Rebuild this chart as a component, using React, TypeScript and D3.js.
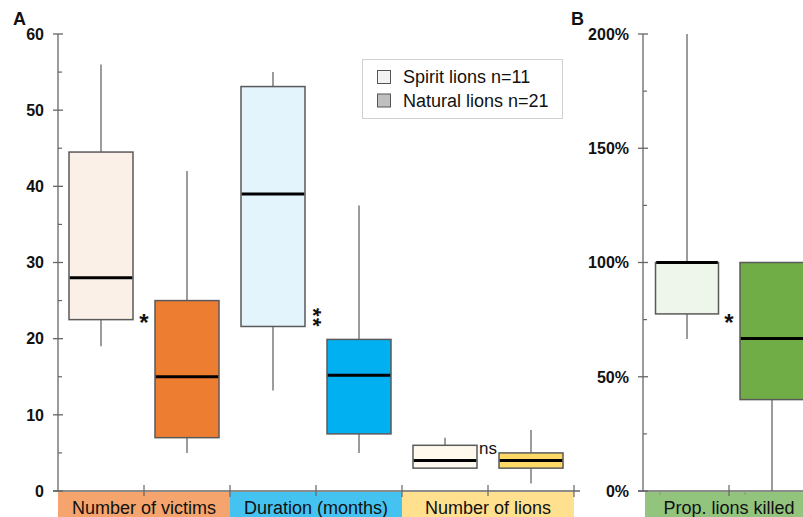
import React from "react";
import * as d3 from "d3";

const categoriesA = ["Number of victims", "Duration (months)", "Number of lions"];
const bandColorsA = ["#F4A46C", "#45C3F0", "#FFE08F"];
const spiritColorsA = ["#FBF0E8", "#E3F4FC", "#FEF9EC"];
const naturalColorsA = ["#ED7D31", "#00B0F0", "#FFD966"];
// [min, q1, median, q3, max]
const spiritStatsA = [
  [19, 22.5, 28, 44.5, 56],
  [13.2, 21.6, 39, 53.1, 55],
  [3, 3, 4, 6, 7],
];
const naturalStatsA = [
  [5, 7, 15, 25, 42],
  [5, 7.5, 15.2, 19.9, 37.5],
  [1, 3, 4, 5, 8],
];
const sigA = ["*", "**", "ns"];
const yTicksA = [0, 10, 20, 30, 40, 50, 60];
const yMinorA = [5, 15, 25, 35, 45, 55];

const categoriesB = ["Prop. lions killed"];
const spiritStatsB = [[0.665, 0.775, 1.0, 1.0, 2.0]];
const naturalStatsB = [[0, 0.4, 0.667, 1.0, 1.0]];
const sigB = ["*"];
const yTicksB = [0, 0.5, 1, 1.5, 2];
const yMinorB = [0.25, 0.75, 1.25, 1.75];

const legendLabels = ["Spirit lions n=11", "Natural lions n=21"];
const legendColors = ["#F2F2F2", "#BFBFBF"];

const FONT = "'Liberation Sans', Arial, Helvetica, sans-serif";
const AXIS = "#666";
const BOXSTROKE = "#5a5a5a";

function Box({ cx, w, s, y, fill }: { cx: number; w: number; s: number[]; y: d3.ScaleLinear<number, number>; fill: string }) {
  const [mn, q1, md, q3, mx] = s;
  return (
    <g>
      <line x1={cx} x2={cx} y1={y(q3)} y2={y(mx)} stroke={BOXSTROKE} strokeWidth={1.2} />
      <line x1={cx} x2={cx} y1={y(q1)} y2={y(mn)} stroke={BOXSTROKE} strokeWidth={1.2} />
      <rect x={cx - w / 2} y={y(q3)} width={w} height={y(q1) - y(q3)} fill={fill} stroke={BOXSTROKE} strokeWidth={1.5} />
      <line x1={cx - w / 2 + 0.75} x2={cx + w / 2 - 0.75} y1={y(md)} y2={y(md)} stroke="#000" strokeWidth={3} />
    </g>
  );
}

export default function App() {
  const y0 = 491, y1 = 34;
  const yA = d3.scaleLinear().domain([0, 60]).range([y0, y1]);
  const yB = d3.scaleLinear().domain([0, 2]).range([y0, y1]);
  const xA = d3.scaleBand().domain(categoriesA).range([58, 574]);
  const xB = d3.scaleBand().domain(categoriesB).range([643, 815]);
  const axA = 58, axB = 643;
  const off = 43, bw = 64;
  const midA = (c: string) => xA(c)! + xA.bandwidth() / 2;

  return (
    <svg width={803} height={517} style={{ display: "block", position: "absolute", left: 0, top: 0 }} fontFamily={FONT}>
      <rect width={803} height={517} fill="#fff" />
      {/* Panel A bands */}
      {categoriesA.map((c, i) => (
        <g key={c}>
          <rect x={xA(c)!} y={492} width={xA.bandwidth()} height={30} fill={bandColorsA[i]} />
          <text x={midA(c)} y={514} textAnchor="middle" fontSize={18} fill="#111">{c}</text>
        </g>
      ))}
      {/* Panel B band */}
      {categoriesB.map((c) => (
        <g key={c}>
          <rect x={xB(c)! + 2} y={492} width={xB.bandwidth()} height={30} fill="#93C47D" />
          <text x={xB(c)! + xB.bandwidth() / 2} y={514} textAnchor="middle" fontSize={18} fill="#111">{c}</text>
        </g>
      ))}

      {/* Panel A y axis */}
      <line x1={axA} x2={axA} y1={y1} y2={y0} stroke={AXIS} strokeWidth={1.3} />
      {yTicksA.map((t) => (
        <g key={t}>
          <line x1={axA - 5} x2={axA + 5} y1={yA(t)} y2={yA(t)} stroke={AXIS} strokeWidth={1.3} />
          <text x={44} y={yA(t)} dy="0.36em" textAnchor="end" fontSize={16} fontWeight="bold" fill="#111">{t}</text>
        </g>
      ))}
      {yMinorA.map((t) => (
        <line key={t} x1={axA} x2={axA + 4} y1={yA(t)} y2={yA(t)} stroke={AXIS} strokeWidth={1.2} />
      ))}
      <line x1={53} x2={580} y1={y0} y2={y0} stroke={AXIS} strokeWidth={1.3} />
      {categoriesA.map((c) => (
        <g key={c}>
          <line x1={midA(c)} x2={midA(c)} y1={y0 - 6} y2={y0 + 5} stroke={AXIS} strokeWidth={1.2} />
          <line x1={xA(c)! + xA.bandwidth()} x2={xA(c)! + xA.bandwidth()} y1={y0 - 6} y2={y0 + 6} stroke={AXIS} strokeWidth={1.2} />
        </g>
      ))}

      {/* Panel A boxes */}
      {categoriesA.map((c, i) => (
        <g key={c}>
          <Box cx={midA(c) - off} w={bw} s={spiritStatsA[i]} y={yA} fill={spiritColorsA[i]} />
          <Box cx={midA(c) + off} w={bw} s={naturalStatsA[i]} y={yA} fill={naturalColorsA[i]} />
        </g>
      ))}

      {/* significance A */}
      <text x={midA(categoriesA[0])} y={331} textAnchor="middle" fontSize={24} fontWeight="bold" fill="#111">{sigA[0]}</text>
      <text
        x={0}
        y={0}
        transform={`translate(${midA(categoriesA[1]) - 10}, 318) rotate(90)`}
        textAnchor="middle"
        fontSize={22}
        fontWeight="bold"
        letterSpacing={1.5}
        fill="#111"
      >
        {sigA[1]}
      </text>
      <text x={midA(categoriesA[2])} y={454} textAnchor="middle" fontSize={17} fill="#111">{sigA[2]}</text>

      {/* Legend */}
      <rect x={362.5} y={59.5} width={200} height={59} fill="#fff" stroke="#d0d0d0" strokeWidth={1} />
      {legendLabels.map((l, i) => (
        <g key={l}>
          <rect x={377.5} y={70.5 + i * 23.5} width={13} height={13} fill={legendColors[i]} stroke="#555" strokeWidth={1} />
          <text x={403} y={83 + i * 24} fontSize={18} fill="#111">{l}</text>
        </g>
      ))}

      {/* Panel labels */}
      <text x={13} y={25} fontSize={18} fontWeight="bold" fill="#111">A</text>
      <text x={571} y={25} fontSize={18} fontWeight="bold" fill="#111">B</text>

      {/* Panel B axis */}
      <line x1={axB} x2={axB} y1={y1} y2={y0} stroke={AXIS} strokeWidth={1.3} />
      {yTicksB.map((t) => (
        <g key={t}>
          <line x1={axB - 5} x2={axB + 5} y1={yB(t)} y2={yB(t)} stroke={AXIS} strokeWidth={1.3} />
          <text x={629} y={yB(t)} dy="0.36em" textAnchor="end" fontSize={16} fontWeight="bold" fill="#111">{d3.format(".0%")(t)}</text>
        </g>
      ))}
      {yMinorB.map((t) => (
        <line key={t} x1={axB} x2={axB + 4} y1={yB(t)} y2={yB(t)} stroke={AXIS} strokeWidth={1.2} />
      ))}
      <line x1={638} x2={803} y1={y0} y2={y0} stroke={AXIS} strokeWidth={1.3} />
      {categoriesB.map((c) => {
        const cx = xB(c)! + xB.bandwidth() / 2;
        return (
          <g key={c}>
            <line x1={cx} x2={cx} y1={y0 - 6} y2={y0 + 5} stroke={AXIS} strokeWidth={1.2} />
            <line x1={cx - 69} x2={cx - 69} y1={y0} y2={y0 + 4} stroke="#7a9a6a" strokeWidth={1} />
            <line x1={cx + 16} x2={cx + 16} y1={y0} y2={y0 + 4} stroke="#7a9a6a" strokeWidth={1} />
            <Box cx={cx - 42} w={63} s={spiritStatsB[0]} y={yB} fill="#EEF6EC" />
            <Box cx={cx + 43} w={64} s={naturalStatsB[0]} y={yB} fill="#70AD47" />
            <text x={cx} y={331} textAnchor="middle" fontSize={24} fontWeight="bold" fill="#111">{sigB[0]}</text>
          </g>
        );
      })}
    </svg>
  );
}
